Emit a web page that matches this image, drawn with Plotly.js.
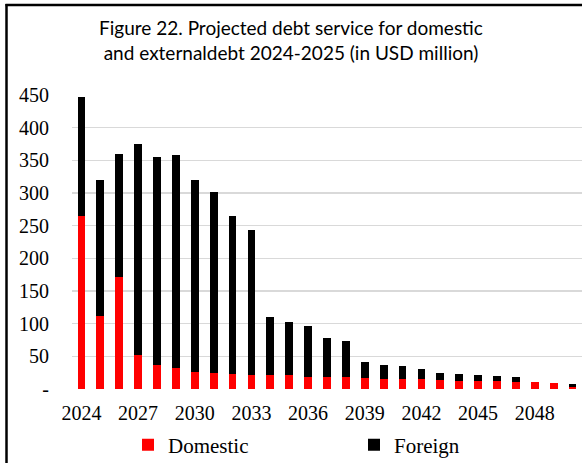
<!DOCTYPE html>
<html>
<head>
<meta charset="utf-8">
<script src="https://cdn.plot.ly/plotly-3.0.1.min.js"></script>
<style>html,body{margin:0;padding:0;background:#fff;}#chart{width:582px;height:463px;}</style>
</head>
<body>
<div id="chart"></div>
<script>
var years = [2024,2025,2026,2027,2028,2029,2030,2031,2032,2033,2034,2035,2036,2037,2038,2039,2040,2041,2042,2043,2044,2045,2046,2047,2048,2049,2050];
var domestic = [265,112,172,52,37,32,26,24,23,22,22,21,19,19,18,17,16,16,15,14,13,13,12,11,11,9,3];
var foreign = [182,208,188,323,318,326,294,277,242,221,88,81,77,59,55,24,21,19,16,11,10,8,8,8,0,0,4];
var yTickVals = [0,50,100,150,200,250,300,350,400,450];
var yTickText = ['-','50','100','150','200','250','300','350','400','450'];
var xTickVals = [2024,2027,2030,2033,2036,2039,2042,2045,2048];

var serif = 'Liberation Serif, Times New Roman, serif';
var traces = [
  {type:'bar', name:'Domestic', x:years, y:domestic, marker:{color:'#ff0000'}},
  {type:'bar', name:'Foreign', x:years, y:foreign, marker:{color:'#000000'}}
];
function px2x(p){return (p-72)/510;}
function px2y(p){return (389-p)/294;}
var layout = {
  width:582, height:463,
  margin:{l:72, r:0, t:95, b:74, autoexpand:false},
  barmode:'stack', bargap:0.59,
  paper_bgcolor:'#fff', plot_bgcolor:'#fff',
  showlegend:true,
  title:{text:'Figure 22. Projected debt service for domestic<br>and externaldebt 2024-2025 (in USD million)',
    font:{family:'Lato, Noto Sans, sans-serif', size:19, color:'#000'},
    xref:'container', x:0.5, xanchor:'center', yref:'container', y:1-35/463, yanchor:'middle'},
  xaxis:{range:[2023.5,2050.5], tickmode:'array', tickvals:xTickVals, ticktext:xTickVals.map(String),
    showgrid:false, zeroline:false, showline:false, ticks:'',
    tickfont:{family:serif, size:20, color:'#000'}, ticklabelstandoff:10},
  yaxis:{range:[0,450], tickmode:'array', tickvals:yTickVals, ticktext:yTickText,
    showgrid:true, gridcolor:'#d9d9d9', gridwidth:1.5, zeroline:false, showline:false, ticks:'',
    tickfont:{family:serif, size:20, color:'#000'}, ticklabelstandoff:22},
  legend:{orientation:'h', x:px2x(128), xanchor:'left', y:px2y(445), yanchor:'middle',
    traceorder:'normal', entrywidth:181, entrywidthmode:'pixels',
    font:{family:serif, size:21, color:'#000'}, bgcolor:'rgba(0,0,0,0)'},
  shapes:[
    {type:'line', xref:'paper', yref:'paper', x0:px2x(6.5), x1:px2x(6.5), y0:px2y(4), y1:px2y(470), line:{color:'#000', width:2.5}},
    {type:'line', xref:'paper', yref:'paper', x0:px2x(5.5), x1:px2x(590), y0:px2y(5), y1:px2y(5), line:{color:'#000', width:2.5}}
  ]
};
Plotly.newPlot('chart', traces, layout, {displayModeBar:false, staticPlot:true});
</script>
</body>
</html>
